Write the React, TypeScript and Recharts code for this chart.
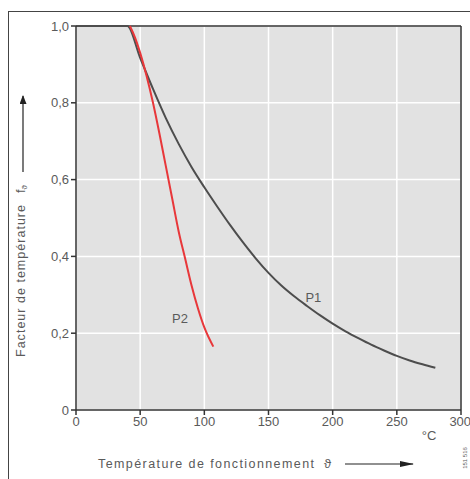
import {
  CartesianGrid,
  Line,
  LineChart,
  ReferenceDot,
  ReferenceLine,
  XAxis,
  YAxis,
} from "recharts"

// temperature (°C) -> temperature factor
const P1_TEMP = [0, 40, 50, 60, 70, 80, 90, 100, 110, 120, 130, 140, 150, 160, 170, 180, 190, 200, 210, 220, 230, 240, 250, 260, 270, 280]
const P1_FACTOR = [1.0, 1.0, 0.917, 0.836, 0.76, 0.693, 0.633, 0.58, 0.53, 0.482, 0.437, 0.395, 0.357, 0.324, 0.296, 0.271, 0.247, 0.225, 0.205, 0.187, 0.17, 0.155, 0.141, 0.129, 0.119, 0.11]

const P2_TEMP = [42, 46, 50, 55, 60, 65, 70, 75, 80, 85, 90, 95, 100, 107]
const P2_FACTOR = [1.0, 0.97, 0.93, 0.87, 0.8, 0.72, 0.635, 0.55, 0.465, 0.395, 0.325, 0.265, 0.215, 0.165]

const X_TICKS = [0, 50, 100, 150, 200, 250, 300]
const Y_TICKS = [0, 0.2, 0.4, 0.6, 0.8, 1.0]

const CURVE_LABELS = [
  { name: "P1", x: 185, y: 0.294 },
  { name: "P2", x: 81, y: 0.238 },
]

const p1 = P1_TEMP.map((x, i) => ({ x, y: P1_FACTOR[i] }))
const p2 = P2_TEMP.map((x, i) => ({ x, y: P2_FACTOR[i] }))

const FONT = '"Liberation Sans", Arial, sans-serif'
const TXT = "#5a5a5a"
const AXIS = "#333"

const fmtY = (v: number) => (v === 0 ? "0" : v.toFixed(1).replace(".", ","))

export default function App() {
  return (
    <div style={{ position: "absolute", left: 0, top: 0, width: 470, height: 479, background: "#fff", fontFamily: FONT, overflow: "hidden" }}>
      <div
        style={{
          position: "absolute",
          left: 8,
          top: 11,
          width: 470,
          height: 479,
          borderTop: "1.5px solid #444",
          borderLeft: "1.5px solid #444",
        }}
      />
      <div style={{ position: "absolute", left: 0, top: 0 }}>
        <LineChart width={470} height={479} margin={{ top: 26, right: 9, bottom: 39, left: 36 }}>
          <CartesianGrid fill="#e2e2e2" stroke="#ffffff" strokeWidth={1.5} strokeOpacity={1} />
          <XAxis
            type="number"
            dataKey="x"
            domain={[0, 300]}
            ticks={X_TICKS}
            height={30}
            tick={{ fill: TXT, fontSize: 13, fontFamily: FONT }}
            tickSize={5}
            axisLine={{ stroke: AXIS, strokeWidth: 1.5 }}
            tickLine={{ stroke: AXIS, strokeWidth: 1.5 }}
          />
          <YAxis
            type="number"
            dataKey="y"
            domain={[0, 1]}
            ticks={Y_TICKS}
            width={40}
            tickFormatter={fmtY}
            tick={{ fill: TXT, fontSize: 13, fontFamily: FONT }}
            tickSize={5}
            axisLine={{ stroke: AXIS, strokeWidth: 1.5 }}
            tickLine={{ stroke: AXIS, strokeWidth: 1.5 }}
          />
          <ReferenceLine y={1} stroke={AXIS} strokeWidth={1.5} />
          <ReferenceLine x={300} stroke={AXIS} strokeWidth={1.5} />
          <Line data={p1} dataKey="y" type="monotone" stroke="#4d4d4d" strokeWidth={2} dot={false} isAnimationActive={false} />
          <Line data={p2} dataKey="y" type="monotone" stroke="#e8373a" strokeWidth={2} dot={false} isAnimationActive={false} />
          {CURVE_LABELS.map((l) => (
            <ReferenceDot
              key={l.name}
              x={l.x}
              y={l.y}
              r={0}
              stroke="none"
              fill="none"
              label={{ value: l.name, position: "center", fill: TXT, fontSize: 13, fontFamily: FONT }}
            />
          ))}
        </LineChart>
      </div>
      <svg width={470} height={479} style={{ position: "absolute", left: 0, top: 0, pointerEvents: "none" }}>
        <defs>
          <marker id="ah" markerWidth="9" markerHeight="7" refX="8" refY="3.5" orient="auto" markerUnits="userSpaceOnUse">
            <path d="M0,0 L9,3.5 L0,7 Z" fill="#222" />
          </marker>
          <marker id="ah2" markerWidth="14" markerHeight="6" refX="13" refY="3" orient="auto" markerUnits="userSpaceOnUse">
            <path d="M0,0 L14,3 L0,6 Z" fill="#222" />
          </marker>
        </defs>
        <text
          x={22}
          y={281}
          transform="rotate(-90 22 281)"
          textAnchor="middle"
          dominantBaseline="middle"
          fontSize={12.5}
          fill={TXT}
          fontFamily={FONT}
          textLength={152}
          lengthAdjust="spacing"
        >
          Facteur de température
        </text>
        <text x={22} y={189} transform="rotate(-90 22 189)" textAnchor="middle" dominantBaseline="middle" fontSize={13} fill={TXT} fontFamily={FONT}>
          f<tspan fontSize={8} dy={3}>ϑ</tspan>
        </text>
        <line x1={23} y1={172} x2={23} y2={96} stroke="#222" strokeWidth={1.2} markerEnd="url(#ah)" />
        <text
          x={98}
          y={465}
          dominantBaseline="middle"
          fontSize={12.5}
          fill={TXT}
          fontFamily={FONT}
          textLength={216}
          lengthAdjust="spacing"
        >
          Température de fonctionnement
        </text>
        <text x={324} y={465} dominantBaseline="middle" fontSize={13} fill={TXT} fontFamily={FONT}>
          ϑ
        </text>
        <line x1={345} y1={464} x2={413} y2={464} stroke="#222" strokeWidth={1.2} markerEnd="url(#ah2)" />
        <text x={429} y={437} textAnchor="middle" dominantBaseline="middle" fontSize={13} fill={TXT} fontFamily={FONT}>
          °C
        </text>
        <text x={465} y={458} transform="rotate(-90 465 458)" textAnchor="middle" dominantBaseline="middle" fontSize={6} fill={TXT} fontFamily={FONT}>
          151 516
        </text>
      </svg>
    </div>
  )
}
